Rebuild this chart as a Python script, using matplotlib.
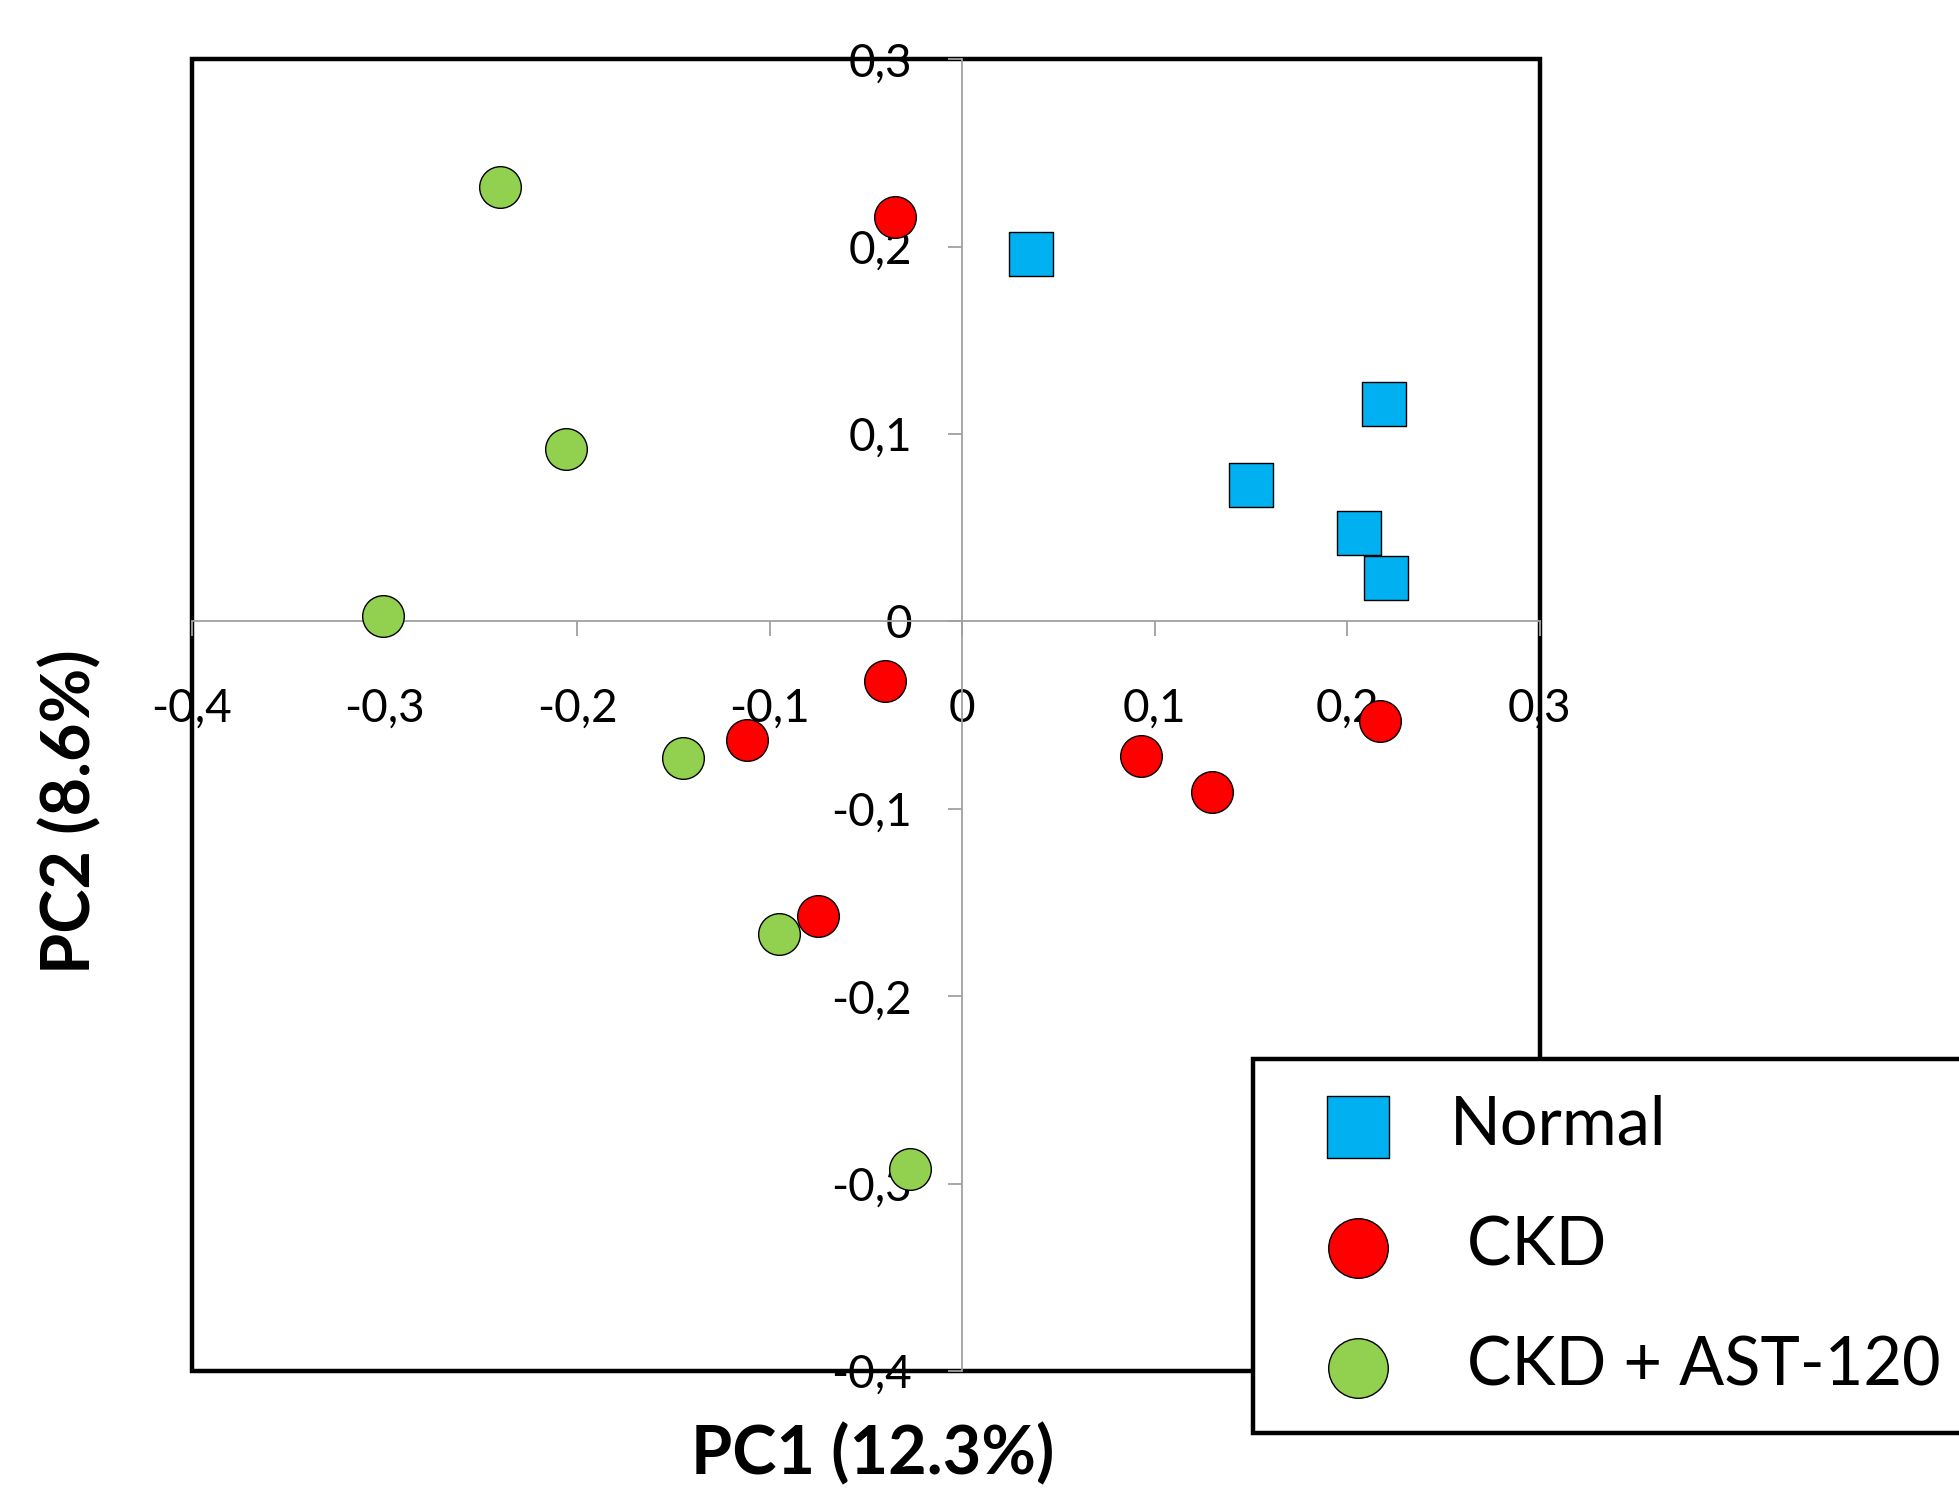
import numpy as np
import matplotlib.pyplot as plt
from matplotlib.patches import Rectangle
from matplotlib.ticker import FuncFormatter, MultipleLocator

plt.rcParams['font.family'] = ['Lato', 'DejaVu Sans']
plt.rcParams['axes.unicode_minus'] = False

# PCA scores
normal_pc1 = [0.036, 0.219, 0.150, 0.206, 0.220]
normal_pc2 = [0.196, 0.116, 0.073, 0.047, 0.023]

ckd_pc1 = [-0.035, -0.040, -0.112, -0.075, 0.093, 0.130, 0.217]
ckd_pc2 = [0.216, -0.032, -0.063, -0.157, -0.072, -0.091, -0.053]

ast_pc1 = [-0.240, -0.206, -0.301, -0.145, -0.095, -0.027]
ast_pc2 = [0.232, 0.092, 0.003, -0.073, -0.167, -0.292]

labels = ['Normal', ' CKD', ' CKD + AST-120']
xlabel = 'PC1 (12.3%)'
ylabel = 'PC2 (8.6%)'

fig = plt.figure(figsize=(19.59, 14.99), dpi=100)
ax = fig.add_axes([0.098, 0.0854, 0.688, 0.875])
ax.set_xlim(-0.4, 0.3)
ax.set_ylim(-0.4, 0.3)

# axes through the origin, thin and grey
for side in ['top', 'right']:
    ax.spines[side].set_visible(False)
ax.spines['left'].set_position(('data', 0))
ax.spines['bottom'].set_position(('data', 0))
for side in ['left', 'bottom']:
    ax.spines[side].set_color('#a0a0a0')
    ax.spines[side].set_linewidth(1.3)

# black frame around the plot area
ax.add_patch(Rectangle((0, 0), 1, 1, transform=ax.transAxes, fill=False,
                       edgecolor='black', linewidth=3.2, zorder=1, clip_on=False))

fmt = FuncFormatter(lambda v, p: '0' if abs(v) < 1e-9 else f'{v:.1f}'.replace('.', ','))
ax.xaxis.set_major_locator(MultipleLocator(0.1))
ax.yaxis.set_major_locator(MultipleLocator(0.1))
ax.xaxis.set_major_formatter(fmt)
ax.yaxis.set_major_formatter(fmt)
ax.tick_params(axis='x', direction='out', length=11, width=1.3, color='#a0a0a0',
               labelsize=33, pad=37)
ax.tick_params(axis='y', direction='out', length=10, width=1.3, color='#a0a0a0',
               labelsize=33, pad=26)

h1 = ax.scatter(normal_pc1, normal_pc2, marker='s', s=961, color='#00b0f0',
                edgecolor='black', linewidth=1, zorder=3)
h2 = ax.scatter(ckd_pc1, ckd_pc2, marker='o', s=900, color='#ff0000',
                edgecolor='black', linewidth=1, zorder=3)
h3 = ax.scatter(ast_pc1, ast_pc2, marker='o', s=900, color='#92d050',
                edgecolor='black', linewidth=1, zorder=3)

fig.text(873 / 1959, 1 - 1455 / 1499, xlabel, fontsize=48, fontweight='bold',
         ha='center', va='center')
fig.text(71 / 1959, 1 - 812 / 1499, ylabel, fontsize=48, fontweight='bold',
         ha='center', va='center', rotation=90)

leg = fig.legend([h1, h2, h3], labels, loc='upper left',
                 bbox_to_anchor=(1253 / 1959, 0.0, 0.5, 1 - 1059 / 1499),
                 mode='expand', borderaxespad=0, fontsize=48, markerscale=1.43,
                 borderpad=0.53, labelspacing=0.88, handlelength=2.1,
                 handletextpad=0.32, fancybox=False, framealpha=1)
leg.get_frame().set_edgecolor('black')
leg.get_frame().set_linewidth(3.2)

fig.savefig('out.png', dpi=100)
